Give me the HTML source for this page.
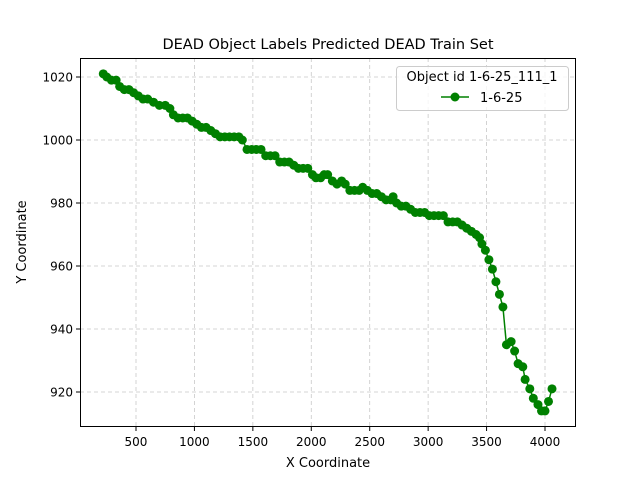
<!DOCTYPE html>
<html><head><meta charset="utf-8"><style>
body{margin:0;background:#fff;font-family:"Liberation Sans","DejaVu Sans",sans-serif;}
</style></head><body>
<svg width="640" height="480" xmlns="http://www.w3.org/2000/svg" font-family="DejaVu Sans, Liberation Sans, sans-serif">
<rect width="640" height="480" fill="#fff"/>
<text x="328" y="49" text-anchor="middle" font-size="14.5">DEAD Object Labels Predicted DEAD Train Set</text>
<g id="grid"></g>
<g id="series"></g>
<rect x="80.5" y="58.5" width="495" height="368" fill="none" stroke="#000" stroke-width="1"/>
<g id="ticks"></g>
<text x="328" y="467" text-anchor="middle" font-size="13">X Coordinate</text>
<text transform="translate(26,242) rotate(-90)" text-anchor="middle" font-size="13">Y Coordinate</text>
<g>
<rect x="396.5" y="66.5" width="172" height="44" rx="3" fill="#fff" fill-opacity="0.8" stroke="#ccc"/>
<text x="482" y="81" text-anchor="middle" font-size="13">Object id 1-6-25_111_1</text>
<line x1="441" y1="97" x2="469" y2="97" stroke="green" stroke-width="1.5"/>
<circle cx="455" cy="97" r="4.5" fill="green"/>
<text x="480" y="102" font-size="13">1-6-25</text>
</g>
</svg>
<script>
const xVals=[220,250,290,330,360,400,440,480,520,560,600,650,700,750,790,820,860,900,940,980,1020,1060,1100,1140,1180,1220,1260,1300,1340,1380,1410,1450,1490,1530,1570,1610,1650,1690,1730,1770,1810,1850,1890,1930,1970,2010,2040,2080,2110,2140,2180,2220,2260,2290,2330,2370,2410,2440,2480,2520,2560,2600,2640,2680,2700,2730,2770,2810,2850,2890,2930,2970,3010,3050,3090,3130,3170,3210,3250,3290,3330,3370,3410,3440,3460,3490,3520,3550,3580,3610,3640,3670,3710,3740,3770,3810,3830,3870,3900,3940,3970,4000,4030,4060];
const yVals=[1021,1020,1019,1019,1017,1016,1016,1015,1014,1013,1013,1012,1011,1011,1010,1008,1007,1007,1007,1006,1005,1004,1004,1003,1002,1001,1001,1001,1001,1001,1000,997,997,997,997,995,995,995,993,993,993,992,991,991,991,989,988,988,989,989,987,986,987,986,984,984,984,985,984,983,983,982,981,981,982,980,979,979,978,977,977,977,976,976,976,976,974,974,974,973,972,971,970,969,967,965,962,959,955,951,947,935,936,933,929,928,924,921,918,916,914,914,917,921];
const xTicks=[500,1000,1500,2000,2500,3000,3500,4000];
const yTicks=[920,940,960,980,1000,1020];
const sx=v=>77.57+v*0.116857;
const sy=v=>77-(v-1020)*3.15;
const NS="http://www.w3.org/2000/svg";
const grid=document.getElementById('grid'),ticks=document.getElementById('ticks'),ser=document.getElementById('series');
function mk(tag,attrs,parent){const e=document.createElementNS(NS,tag);for(const k in attrs)e.setAttribute(k,attrs[k]);parent.appendChild(e);return e;}
xTicks.forEach(t=>{const x=sx(t);
const g=mk('line',{x1:x,x2:x,y1:58,y2:427,stroke:'#b0b0b0','stroke-dasharray':'4,3','stroke-width':0.8,'stroke-opacity':0.7},grid);


mk('line',{x1:x,x2:x,y1:427,y2:431,stroke:'#000'},ticks);
const tx=mk('text',{x:x,y:446,'text-anchor':'middle','font-size':12},ticks);tx.textContent=t;

});
yTicks.forEach(t=>{const y=sy(t);
const g=mk('line',{x1:80,x2:576,y1:y,y2:y,stroke:'#b0b0b0','stroke-dasharray':'4,3','stroke-width':0.8,'stroke-opacity':0.7},grid);


mk('line',{x1:76,x2:80,y1:y,y2:y,stroke:'#000'},ticks);
const tx=mk('text',{x:73,y:y+4.5,'text-anchor':'end','font-size':12},ticks);tx.textContent=t;

});
const pl=mk('polyline',{points:xVals.map((v,i)=>sx(v)+','+sy(yVals[i])).join(' '),fill:'none',stroke:'green','stroke-width':1.5},ser);


xVals.forEach((v,i)=>{const c=mk('circle',{cx:sx(v),cy:sy(yVals[i]),r:4.5,fill:'green'},ser);

});
</script>
</body></html>
